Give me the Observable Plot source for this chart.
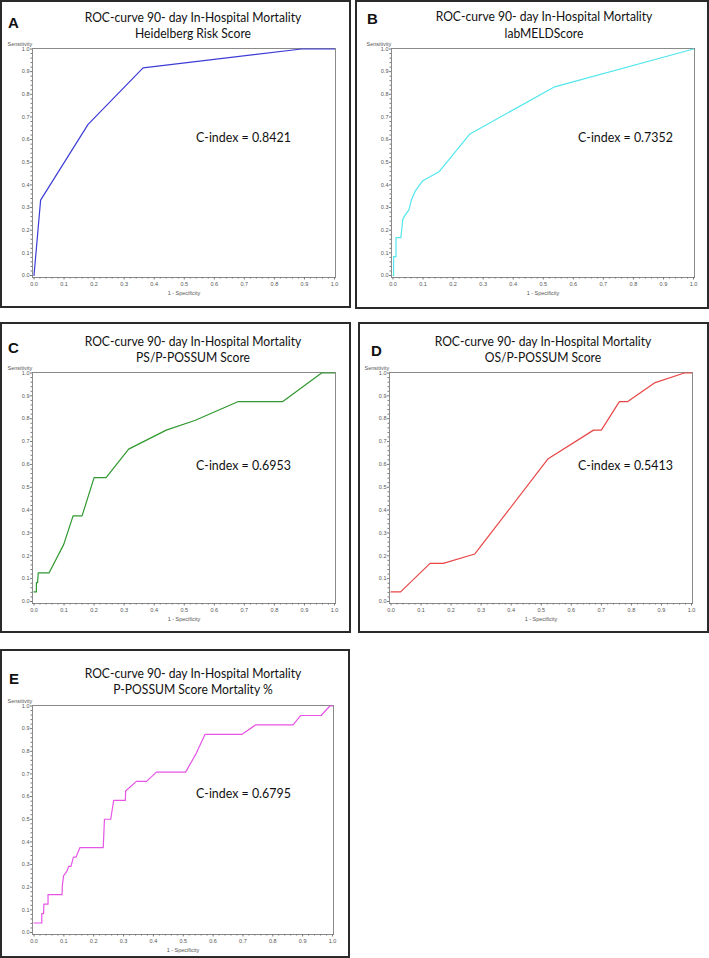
<!DOCTYPE html>
<html><head><meta charset="utf-8">
<script src="https://cdn.jsdelivr.net/npm/d3@7"></script>
<script src="https://cdn.jsdelivr.net/npm/@observablehq/plot@0.6"></script>
<style>
body{margin:0;background:#fff;}
#page{position:relative;width:709px;height:958px;overflow:hidden;font-family:Lato,"Open Sans",sans-serif;}
.box{position:absolute;border:2px solid #2a2a2a;box-sizing:border-box;}
.letter{position:absolute;font-family:"Liberation Sans",Arial,sans-serif;font-weight:bold;font-size:15px;color:#111;transform:translateY(-50%);line-height:1;}
.title{position:absolute;white-space:nowrap;color:#111;line-height:1;font-size:13px;transform-origin:50% 50%;}
.cidx{position:absolute;white-space:nowrap;color:#111;line-height:1;font-size:13.3px;transform-origin:0 50%;}
.plot{position:absolute;}
</style></head><body><div id="page"></div>
<script>
// ---- data ----
const panelLetters = ["A","B","C","D","E"];
const titleLine1 = "ROC-curve 90- day In-Hospital Mortality";
const titleLine2 = ["Heidelberg Risk Score","labMELDScore","PS/P-POSSUM Score","OS/P-POSSUM Score","P-POSSUM Score Mortality %"];
const cIndexLabels = ["C-index = 0.8421","C-index = 0.7352","C-index = 0.6953","C-index = 0.5413","C-index = 0.6795"];
const yAxisLabel = "Sensitivity";
const xAxisLabel = "1 - Specificity";
const lineColors = ["#3c3cd6","#52e6ee","#2f982f","#e84646","#e655e6"];

const fprA = [0, 0.022, 0.18, 0.363, 0.89, 1];
const tprA = [0, 0.333, 0.667, 0.917, 1, 1];

const fprB = [0, 0.002, 0.002, 0.01, 0.01, 0.026, 0.028, 0.033, 0.042, 0.053, 0.061, 0.075, 0.098, 0.153, 0.256, 0.538, 1];
const tprB = [0, 0, 0.083, 0.083, 0.167, 0.167, 0.19, 0.25, 0.27, 0.29, 0.333, 0.375, 0.417, 0.458, 0.625, 0.833, 1];

const fprC = [0, 0.008, 0.008, 0.012, 0.014, 0.05, 0.099, 0.13, 0.16, 0.2, 0.24, 0.315, 0.44, 0.535, 0.68, 0.828, 0.957, 1];
const tprC = [0.042, 0.042, 0.083, 0.083, 0.125, 0.125, 0.25, 0.375, 0.375, 0.542, 0.542, 0.667, 0.75, 0.792, 0.875, 0.875, 1, 1];

const fprD = [0, 0.032, 0.13, 0.174, 0.279, 0.523, 0.674, 0.70, 0.76, 0.788, 0.879, 0.976, 1];
const tprD = [0.042, 0.042, 0.167, 0.167, 0.208, 0.625, 0.75, 0.75, 0.875, 0.875, 0.958, 1, 1];

const fprE = [0, 0.026, 0.026, 0.032, 0.033, 0.047, 0.047, 0.094, 0.095, 0.099, 0.11, 0.116, 0.124, 0.132, 0.141, 0.154, 0.232, 0.236, 0.257, 0.262, 0.267, 0.306, 0.307, 0.343, 0.377, 0.41, 0.508, 0.544, 0.573, 0.697, 0.743, 0.868, 0.893, 0.962, 0.991, 1];
const tprE = [0.042, 0.042, 0.083, 0.083, 0.125, 0.125, 0.167, 0.167, 0.208, 0.25, 0.27, 0.292, 0.292, 0.333, 0.333, 0.375, 0.375, 0.5, 0.5, 0.542, 0.583, 0.583, 0.625, 0.667, 0.667, 0.708, 0.708, 0.792, 0.875, 0.875, 0.917, 0.917, 0.958, 0.958, 1, 1];

const majorTicks = [0,0.1,0.2,0.3,0.4,0.5,0.6,0.7,0.8,0.9,1.0];

const fprs = [fprA, fprB, fprC, fprD, fprE];
const tprs = [tprA, tprB, tprC, tprD, tprE];

// ---- layout (page pixels) ----
const boxes = [[0,0,351,308],[355,0,354,309],[0,322,351,311],[358,322,351,311],[0,649,350,309]];
const frames = [[32,335,48,277],[391,694,48,277],[32,335,372,603],[389,692,372,603],[32,333,705,934]];
const letterPos = [[8,22],[367,18],[8,347],[371,350],[9,678]];
const titlePos = [[193,17,33],[544,16,33],[193,341,357],[543,341,357],[193,673,689]];
const cidxPos = [[196,138],[578,138],[196,466],[578,466],[196,794]];

const page = document.getElementById("page");
const minorTicks = d3.range(0, 51).map(i => i / 50).filter((d, i) => i % 5 !== 0);

// horizontal condensation so the Lato text takes the narrower width of the original face
const cv = document.createElement("canvas").getContext("2d");
cv.font = "13px Lato";
const kx = 217 / cv.measureText(titleLine1).width;

function el(cls, txt, css) {
  const d = document.createElement("div");
  d.className = cls; d.textContent = txt;
  Object.assign(d.style, css);
  page.appendChild(d);
  return d;
}

function makePlot(i) {
  const [fx0, fx1, fy0, fy1] = frames[i];
  const mL = 30, mR = 10, mT = 12, mB = 24;
  const data = fprs[i].map((x, k) => ({x, y: tprs[i][k]}));
  const svg = Plot.plot({
    width: fx1 - fx0 + mL + mR,
    height: fy1 - fy0 + mT + mB,
    marginLeft: mL, marginRight: mR, marginTop: mT, marginBottom: mB,
    style: {fontFamily: "'Liberation Sans', Arial, sans-serif", fontSize: "5.5px", color: "#555", background: "transparent", overflow: "visible"},
    x: {domain: [0, 1], insetLeft: 1.5, insetRight: 1, label: null},
    y: {domain: [0, 1], insetBottom: 2, insetTop: 0.5, label: null},
    marks: [
      Plot.frame({stroke: "#8a8a8a", strokeWidth: 1}),
      Plot.axisX({ticks: minorTicks, tickSize: 1.5, tickFormat: () => "", stroke: "#777"}),
      Plot.axisX({ticks: majorTicks, tickSize: 2.5, tickPadding: 2, tickFormat: d3.format(".1f"), stroke: "#777", fill: "#555", label: null}),
      Plot.axisY({ticks: minorTicks, tickSize: 1.5, tickFormat: () => "", stroke: "#777"}),
      Plot.axisY({ticks: majorTicks, tickSize: 2, tickPadding: 1, tickFormat: d3.format(".1f"), stroke: "#777", fill: "#555", label: null}),
      Plot.line(data, {x: "x", y: "y", stroke: lineColors[i], strokeWidth: 1.2}),
      Plot.text([yAxisLabel], {frameAnchor: "top-left", text: d => d, textAnchor: "start", dx: -25, dy: -6, fill: "#555"}),
      Plot.text([xAxisLabel], {frameAnchor: "bottom", text: d => d, dy: 17, fill: "#555"})
    ]
  });
  svg.classList.add("plot");
  svg.style.left = (fx0 - mL) + "px";
  svg.style.top = (fy0 - mT) + "px";
  page.appendChild(svg);
}

for (let i = 0; i < 5; i++) {
  const [bx, by, bw, bh] = boxes[i];
  el("box", "", {left: bx + "px", top: by + "px", width: bw + "px", height: bh + "px"});
  el("letter", panelLetters[i], {left: letterPos[i][0] + "px", top: letterPos[i][1] + "px"});
  el("title", titleLine1, {left: titlePos[i][0] + "px", top: titlePos[i][1] + "px", transform: `translate(-50%,-50%) scaleX(${kx})`});
  el("title", titleLine2[i], {left: titlePos[i][0] + "px", top: titlePos[i][2] + "px", transform: `translate(-50%,-50%) scaleX(${kx})`});
  el("cidx", cIndexLabels[i], {left: cidxPos[i][0] + "px", top: cidxPos[i][1] + "px", transform: `translateY(-50%) scaleX(${kx})`});
  makePlot(i);
}
</script>
</body></html>
